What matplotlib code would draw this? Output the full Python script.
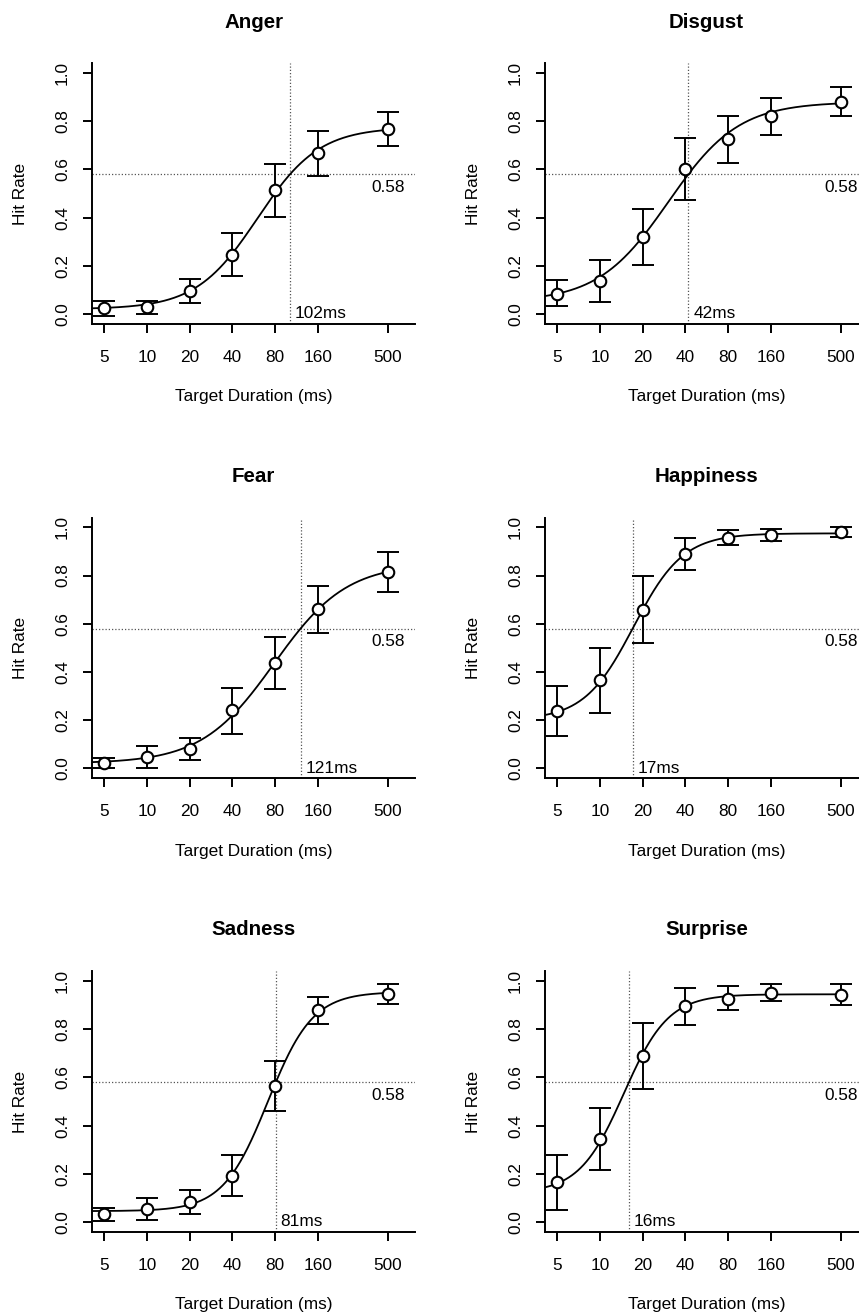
import numpy as np
import matplotlib
matplotlib.use('Agg')
import matplotlib.pyplot as plt

plt.rcParams['font.family'] = ['Liberation Sans', 'DejaVu Sans']

durations = [5, 10, 20, 40, 80, 160, 500]
tick_labels = ['5', '10', '20', '40', '80', '160', '500']
emotions = ['Anger', 'Disgust', 'Fear', 'Happiness', 'Sadness', 'Surprise']

hit = {
    'Anger':     [0.025, 0.029, 0.097, 0.243, 0.515, 0.667, 0.767],
    'Disgust':   [0.084, 0.135, 0.320, 0.601, 0.725, 0.820, 0.881],
    'Fear':      [0.022, 0.046, 0.079, 0.240, 0.438, 0.659, 0.813],
    'Happiness': [0.238, 0.366, 0.657, 0.889, 0.957, 0.968, 0.981],
    'Sadness':   [0.032, 0.054, 0.084, 0.192, 0.566, 0.878, 0.947],
    'Surprise':  [0.165, 0.344, 0.689, 0.896, 0.927, 0.952, 0.941],
}
err_low = {
    'Anger':     [-0.007, 0.001, 0.046, 0.156, 0.403, 0.573, 0.697],
    'Disgust':   [0.032, 0.051, 0.204, 0.472, 0.627, 0.743, 0.822],
    'Fear':      [0.000, 0.000, 0.033, 0.143, 0.331, 0.562, 0.730],
    'Happiness': [0.134, 0.229, 0.519, 0.821, 0.925, 0.943, 0.961],
    'Sadness':   [0.003, 0.008, 0.035, 0.107, 0.461, 0.822, 0.906],
    'Surprise':  [0.051, 0.217, 0.552, 0.819, 0.878, 0.917, 0.899],
}
err_high = {
    'Anger':     [0.055, 0.052, 0.146, 0.336, 0.623, 0.760, 0.837],
    'Disgust':   [0.139, 0.222, 0.435, 0.729, 0.820, 0.896, 0.941],
    'Fear':      [0.043, 0.093, 0.126, 0.335, 0.544, 0.758, 0.898],
    'Happiness': [0.342, 0.501, 0.798, 0.956, 0.989, 0.993, 1.000],
    'Sadness':   [0.058, 0.101, 0.134, 0.277, 0.669, 0.935, 0.989],
    'Surprise':  [0.278, 0.474, 0.826, 0.970, 0.978, 0.988, 0.988],
}

# fitted logistic curves (in log duration)
criterion = 0.58
threshold_ms = [102, 42, 121, 17, 81, 16]
curve_lower = [0.02, 0.05, 0.02, 0.20, 0.045, 0.12]
curve_upper = [0.775, 0.88, 0.85, 0.975, 0.955, 0.945]
curve_slope = [2.0, 1.75, 1.7, 2.49, 2.75, 2.76]

W, H = 859, 1316
fig = plt.figure(figsize=(W / 100, H / 100), dpi=100)

col_left = [92, 545]
row_top = [63.4, 517.7, 971.4]
ax_w, ax_h = 323, 260.2
xlim = (4.1, 775)

for i, emo in enumerate(emotions):
    r, c = divmod(i, 2)
    x0 = col_left[c] / W
    y0 = 1 - (row_top[r] + ax_h) / H
    ax = fig.add_axes([x0, y0, ax_w / W, ax_h / H])
    ax.set_xscale('log')
    ax.set_xlim(*xlim)
    ax.set_ylim(-0.04, 1.04)

    thr = threshold_ms[i]
    lo, up, b = curve_lower[i], curve_upper[i], curve_slope[i]
    p = (criterion - lo) / (up - lo)
    log_mid = np.log(thr) - np.log(p / (1 - p)) / b
    xs = np.exp(np.linspace(np.log(xlim[0]), np.log(500), 300))
    ys = lo + (up - lo) / (1 + np.exp(-b * (np.log(xs) - log_mid)))

    ax.axhline(criterion, color='#555555', lw=0.9, ls=(0, (1, 1.6)), zorder=1)
    ax.axvline(thr, color='#555555', lw=0.9, ls=(0, (1, 1.6)), zorder=1)
    ax.plot(xs, ys, color='black', lw=1.3, zorder=2)

    h = np.array(hit[emo])
    yerr = [h - np.array(err_low[emo]), np.array(err_high[emo]) - h]
    ax.errorbar(durations, h, yerr=yerr, fmt='none', ecolor='black',
                elinewidth=1.4, capsize=8, capthick=1.4, zorder=3)
    ax.plot(durations, h, 'o', mfc='white', mec='black', ms=8.3, mew=1.5, zorder=4)

    ax.annotate(f'{thr}ms', xy=(thr, 0), xytext=(3.5, 0), textcoords='offset points',
                ha='left', va='center', fontsize=12.4)
    ax.annotate(f'{criterion:.2f}', xy=(500, criterion), xytext=(0, -9.4),
                textcoords='offset points', ha='center', va='center', fontsize=12.4)

    for s in ['top', 'right']:
        ax.spines[s].set_visible(False)
    for s in ['left', 'bottom']:
        ax.spines[s].set_linewidth(1.4)

    ax.set_xticks(durations)
    ax.set_xticklabels(tick_labels)
    ax.xaxis.set_minor_locator(matplotlib.ticker.NullLocator())
    ax.set_yticks([0, 0.2, 0.4, 0.6, 0.8, 1.0])
    ax.set_yticklabels(['0.0', '0.2', '0.4', '0.6', '0.8', '1.0'])
    ax.tick_params(axis='both', direction='out', length=6.8, width=1.4, labelsize=12.4)
    ax.tick_params(axis='x', pad=12)
    ax.tick_params(axis='y', pad=9)
    for lbl in ax.get_yticklabels():
        lbl.set_rotation(90)
        lbl.set_va('center')

    ax.text(0.5, (ax_h - (22 - row_top[0])) / ax_h, emo, transform=ax.transAxes,
            ha='center', va='center', fontsize=14.8, fontweight='bold')
    ax.text((20 - 92) / ax_w, 0.5, 'Hit Rate', transform=ax.transAxes, rotation=90,
            ha='center', va='center', fontsize=12.4)
    ax.text(0.5, -(397 - row_top[0] - ax_h) / ax_h, 'Target Duration (ms)',
            transform=ax.transAxes, ha='center', va='center', fontsize=12.4)

fig.savefig('out.png', dpi=100)
